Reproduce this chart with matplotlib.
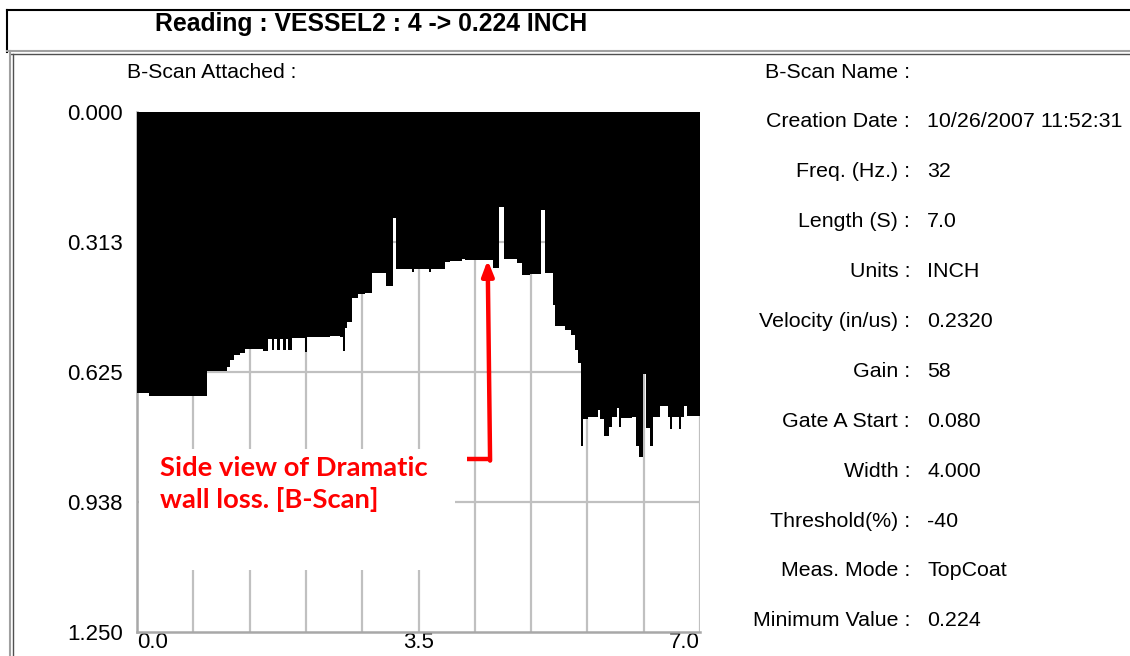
import numpy as np
import matplotlib
matplotlib.use('Agg')
import matplotlib.pyplot as plt
from matplotlib.lines import Line2D
from matplotlib.patches import Rectangle

# B-scan profile: start of each step along the scan (S) and the reading (inch)
pos = [0.000, 0.149, 0.871, 1.119, 1.157, 1.206, 1.281, 1.343, 1.567, 1.629,
       1.679, 1.704, 1.741, 1.779, 1.816, 1.853, 1.878, 1.928, 2.090, 2.114,
       2.400, 2.525, 2.562, 2.587, 2.612, 2.674, 2.749, 2.836, 2.923, 3.097,
       3.184, 3.221, 3.420, 3.445, 3.632, 3.657, 3.831, 3.893, 4.042, 4.080,
       4.428, 4.502, 4.565, 4.726, 4.789, 4.888, 5.025, 5.075, 5.174, 5.199,
       5.323, 5.398, 5.448, 5.485, 5.522, 5.547, 5.609, 5.734, 5.759, 5.808,
       5.871, 5.908, 5.970, 5.995, 6.020, 6.157, 6.206, 6.244, 6.294, 6.331,
       6.381, 6.418, 6.505, 6.604, 6.629, 6.654, 6.741, 6.766, 6.803, 6.841,
       7.000]
thick = [0.675, 0.683, 0.623, 0.613, 0.596, 0.584, 0.579, 0.570, 0.575, 0.545,
         0.572, 0.545, 0.572, 0.545, 0.572, 0.545, 0.572, 0.543, 0.578, 0.541,
         0.538, 0.541, 0.575, 0.520, 0.505, 0.447, 0.438, 0.435, 0.388, 0.418,
         0.255, 0.378, 0.385, 0.378, 0.385, 0.378, 0.361, 0.357, 0.353, 0.356,
         0.375, 0.229, 0.353, 0.363, 0.392, 0.390, 0.236, 0.388, 0.464, 0.514,
         0.524, 0.536, 0.572, 0.604, 0.803, 0.738, 0.733, 0.716, 0.738, 0.779,
         0.757, 0.733, 0.711, 0.757, 0.736, 0.733, 0.803, 0.829, 0.630, 0.760,
         0.803, 0.733, 0.707, 0.733, 0.762, 0.733, 0.762, 0.733, 0.707, 0.731,
         0.731]

y_ticks = [0.0, 0.3125, 0.625, 0.9375, 1.25]
y_labels = ['0.000', '0.313', '0.625', '0.938', '1.250']
x_ticks = [0.0, 3.5, 7.0]
x_labels = ['0.0', '3.5', '7.0']
x_grid = np.arange(0.7, 7.01, 0.7)

title = 'Reading : VESSEL2 : 4 -> 0.224 INCH'
info_labels = ['B-Scan Name :', 'Creation Date :', 'Freq. (Hz.) :', 'Length (S) :',
               'Units :', 'Velocity (in/us) :', 'Gain :', 'Gate A Start :',
               'Width :', 'Threshold(%) :', 'Meas. Mode :', 'Minimum Value :']
info_values = ['', '10/26/2007 11:52:31', '32', '7.0', 'INCH', '0.2320', '58',
               '0.080', '4.000', '-40', 'TopCoat', '0.224']

ui_font = ['Liberation Sans', 'DejaVu Sans']
W, H = 1130, 656

fig = plt.figure(figsize=(W / 100, H / 100), dpi=100)
fig.patch.set_facecolor('white')


def fx(px):
    return px / W


def fy(py):
    return 1 - py / H


# window frames
fig.add_artist(Line2D([fx(7), 1], [fy(10), fy(10)], color='black', lw=1.5))
fig.add_artist(Line2D([fx(7), fx(7)], [fy(10), fy(52)], color='black', lw=1.5))
fig.add_artist(Line2D([fx(7), 1], [fy(51), fy(51)], color='#a0a0a0', lw=1.5))
fig.add_artist(Line2D([fx(11), 1], [fy(54), fy(54)], color='#505050', lw=1.0))
fig.add_artist(Line2D([fx(10), fx(10)], [fy(51), 0], color='#a0a0a0', lw=1.5))
fig.add_artist(Line2D([fx(13), fx(13)], [fy(54), 0], color='#505050', lw=1.0))

fig.text(fx(155), fy(24), title, family=ui_font, fontsize=17.8, fontweight='bold',
         ha='left', va='center')
fig.text(fx(127), fy(72), 'B-Scan Attached :', family=ui_font, fontsize=15.2,
         ha='left', va='center')

# parameter list on the right
for i, (lab, val) in enumerate(zip(info_labels, info_values)):
    yy = 72 + i * 49.9
    fig.text(fx(910), fy(yy), lab, family=ui_font, fontsize=15.4, ha='right', va='center')
    fig.text(fx(927), fy(yy), val, family=ui_font, fontsize=15.4, ha='left', va='center')

ax = fig.add_axes([fx(137), fy(632), fx(700) - fx(137), fy(112) - fy(632)])
ax.set_facecolor('white')
ax.fill_between(pos, 0, thick, step='post', color='black', lw=0, zorder=3)
ax.set_xlim(0, 7)
ax.set_ylim(1.25, 0)

# grid
for gx in x_grid:
    ax.axvline(gx, color='#c0c0c0', lw=1.6, zorder=1)
for gy in y_ticks[1:-1]:
    ax.axhline(gy, color='#c0c0c0', lw=1.6, zorder=1)

ax.set_yticks(y_ticks)
ax.set_yticklabels(y_labels, family=ui_font, fontsize=16)
ax.set_xticks(x_ticks)
ax.set_xticklabels(x_labels, family=ui_font, fontsize=16)
xl = ax.get_xticklabels()
xl[0].set_ha('left')
xl[-1].set_ha('right')
ax.tick_params(which='both', length=0)
ax.tick_params(axis='y', pad=10)
ax.tick_params(axis='x', pad=0)

for side in ['top', 'right']:
    ax.spines[side].set_visible(False)
for side in ['left', 'bottom']:
    ax.spines[side].set_color('#a8a8a8')
    ax.spines[side].set_linewidth(1.8)

# annotation box hiding the grid
ax.add_patch(Rectangle((0.02, 0.81), 3.93, 0.29, facecolor='white', edgecolor='none', zorder=2))
ax.text(0.28, 0.894, 'Side view of Dramatic\nwall loss. [B-Scan]', color='#ff0000',
        family=['Lato', 'DejaVu Sans'], fontsize=19.7, fontweight='bold',
        ha='left', va='center', linespacing=1.3, zorder=6)

ax.plot([4.10, 4.39], [0.834, 0.834], color='#ff0000', lw=3.2, solid_capstyle='butt', zorder=6)
ax.annotate('', xy=(4.36, 0.356), xytext=(4.39, 0.838),
            arrowprops=dict(arrowstyle='-|>,head_length=0.9,head_width=0.35',
                            color='#ff0000', lw=3.2, shrinkA=0, shrinkB=0), zorder=6)

fig.savefig('out.png', dpi=100)
